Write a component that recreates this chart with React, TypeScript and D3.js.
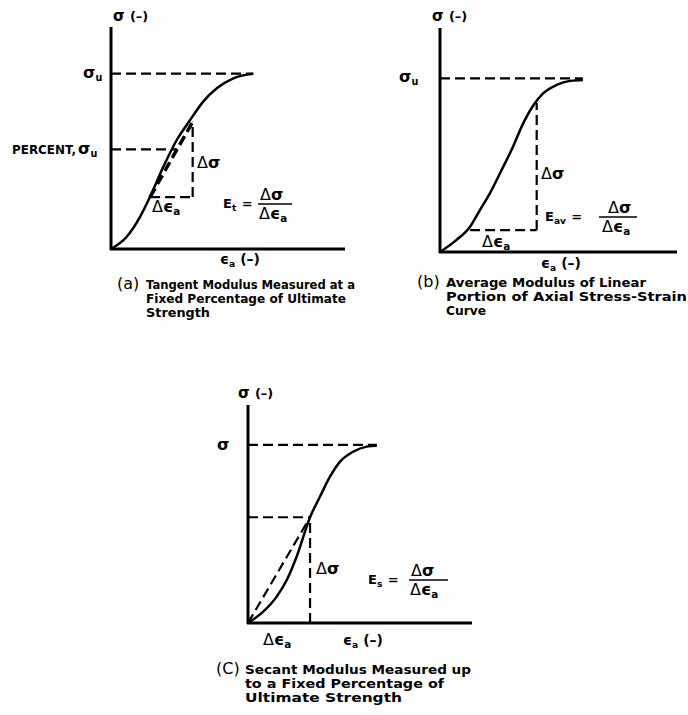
import React from 'react';
import * as d3 from 'd3';

// (a) tangent modulus curve, normalised strain / stress
const strainA = [0, 0.067, 0.124, 0.167, 0.224, 0.281, 0.338, 0.394, 0.452, 0.523, 0.608];
const stressA = [0, 0.055, 0.145, 0.236, 0.371, 0.491, 0.581, 0.664, 0.724, 0.769, 0.789];
const peakA = 0.790;
const percentA = 0.449;
const tangentStrainA = [0.167, 0.349];
const tangentStressA = [0.234, 0.573];

// (b) average modulus curve
const strainB = [0, 0.070, 0.127, 0.169, 0.211, 0.260, 0.308, 0.350, 0.392, 0.435, 0.492, 0.549, 0.603];
const stressB = [0, 0.054, 0.113, 0.188, 0.263, 0.366, 0.470, 0.572, 0.652, 0.708, 0.746, 0.764, 0.768];
const peakB = 0.775;
const avgStrainB = [0.127, 0.408];
const avgStressB = [0.098, 0.665];

// (c) secant modulus curve
const strainC = [0, 0.068, 0.128, 0.173, 0.217, 0.277, 0.321, 0.366, 0.411, 0.470, 0.530, 0.575];
const stressC = [0, 0.052, 0.121, 0.197, 0.304, 0.485, 0.579, 0.671, 0.740, 0.786, 0.809, 0.813];
const peakC = 0.817;
const secantStrainC = [0, 0.277];
const secantStressC = [0, 0.485];

const captionA = ['Tangent  Modulus  Measured at a', 'Fixed Percentage of Ultimate', 'Strength'];
const captionB = ['Average  Modulus  of  Linear', 'Portion  of  Axial  Stress-Strain', 'Curve'];
const captionC = ['Secant  Modulus Measured up', 'to a Fixed Percentage  of', 'Ultimate  Strength'];

const FONT = '"DejaVu Sans", sans-serif';
const DASH = '10,5';

const makeScales = (left: number, right: number, top: number, bottom: number) => ({
  x: d3.scaleLinear().domain([0, 1]).range([left, right]),
  y: d3.scaleLinear().domain([0, 1]).range([bottom, top]),
});

const curvePath = (x: any, y: any, xs: number[], ys: number[]) =>
  d3.line<number>()
    .x((d, i) => x(xs[i]))
    .y((d, i) => y(ys[i]))
    .curve(d3.curveMonotoneX)(xs) as string;

const Axes = ({ x, y }: any) => (
  <g stroke="#000" strokeWidth={3} fill="none">
    <line x1={x(0)} y1={y(1)} x2={x(0)} y2={y(0) + 1} />
    <line x1={x(0) - 1} y1={y(0)} x2={x(1)} y2={y(0)} />
  </g>
);

const Dashed = ({ x1, y1, x2, y2, w = 2.2 }: any) => (
  <line x1={x1} y1={y1} x2={x2} y2={y2} stroke="#000" strokeWidth={w} strokeDasharray={DASH} />
);

const Sigma = ({ x, y, sub, size = 16 }: any) => (
  <text x={x} y={y} fontSize={size} fontFamily={FONT} fontWeight="bold">
    σ{sub ? <tspan fontSize={size * 0.6} dy={3}>{sub}</tspan> : null}
  </text>
);

const Delta = () => <tspan fontWeight="normal">Δ</tspan>;

const Eps = ({ x, y, delta = false, size = 14, label = '' }: any) => (
  <text x={x} y={y} fontSize={size} fontFamily={FONT} fontWeight="bold">
    {delta ? <Delta /> : null}ϵ<tspan fontSize={size * 0.65} dy={3}>a</tspan>
    {label ? <tspan dy={-3} dx={5} fontSize={size}>{label}</tspan> : null}
  </text>
);

const DeltaSigma = ({ x, y, size = 16 }: any) => (
  <text x={x} y={y} fontFamily={FONT} fontWeight="bold" fontSize={size}><Delta />σ</text>
);

const Fraction = ({ x, y, name, sub, barX1, barX2, numX, denX }: any) => (
  <g fontFamily={FONT} fontWeight="bold">
    <text x={x} y={y + 4} fontSize={13}>
      {name}<tspan fontSize={9} dy={3}>{sub}</tspan><tspan dy={-3} dx={1}> =</tspan>
    </text>
    <DeltaSigma x={numX} y={y - 4} />
    <line x1={barX1} x2={barX2} y1={y} y2={y} stroke="#000" strokeWidth={1.5} />
    <Eps x={denX} y={y + 15} delta size={16} />
  </g>
);

const Caption = ({ x, y, tag, lines, widths }: any) => (
  <g fontFamily={FONT} fontWeight="bold" fontSize={12.5}>
    <text x={x} y={y} fontSize={16} fontWeight="normal">{tag}</text>
    {lines.map((l: string, i: number) => (
      <text key={i} x={x + 29} y={y + i * 14} textLength={widths[i]} lengthAdjust="spacingAndGlyphs">{l}</text>
    ))}
  </g>
);

const AxisTitle = ({ x, y }: any) => (
  <text x={x} y={y} fontFamily={FONT} fontWeight="bold" fontSize={15}>σ <tspan fontSize={13}>(–)</tspan></text>
);

const PanelA = () => {
  const { x, y } = makeScales(111, 345, 27, 249);
  const t = (percentA - tangentStressA[0]) / (tangentStressA[1] - tangentStressA[0]);
  const percentEnd = tangentStrainA[0] + t * (tangentStrainA[1] - tangentStrainA[0]);
  return (
    <g>
      <Axes x={x} y={y} />
      <Dashed x1={x(0)} y1={y(peakA)} x2={x(strainA[strainA.length - 1])} y2={y(peakA)} />
      <Dashed x1={x(0)} y1={y(percentA)} x2={x(percentEnd)} y2={y(percentA)} />
      <Dashed x1={x(tangentStrainA[0])} y1={y(tangentStressA[0])} x2={x(tangentStrainA[1])} y2={y(tangentStressA[0])} />
      <Dashed x1={x(tangentStrainA[1])} y1={y(tangentStressA[0])} x2={x(tangentStrainA[1])} y2={y(tangentStressA[1])} />
      <Dashed x1={x(tangentStrainA[0])} y1={y(tangentStressA[0])} x2={x(tangentStrainA[1])} y2={y(tangentStressA[1])} w={3.5} />
      <path d={curvePath(x, y, strainA, stressA)} fill="none" stroke="#000" strokeWidth={2.5} />
      <AxisTitle x={113} y={21} />
      <Sigma x={83} y={78} sub="u" />
      <text x={12} y={154} fontFamily={FONT} fontWeight="bold" fontSize={11.5} textLength={64} lengthAdjust="spacingAndGlyphs">PERCENT,</text>
      <Sigma x={78} y={154} sub="u" />
      <DeltaSigma x={197} y={168} />
      <Eps x={152} y={212} delta size={16} />
      <Fraction x={223} y={204} name="E" sub="t" barX1={258} barX2={292} numX={260} denX={259} />
      <Eps x={220} y={264} size={14} label="(–)" />
      <Caption x={117} y={289} tag="(a)" lines={captionA} widths={[209, 200, 64]} />
    </g>
  );
};

const PanelB = () => {
  const { x, y } = makeScales(440, 677, 28, 252);
  return (
    <g>
      <Axes x={x} y={y} />
      <Dashed x1={x(0)} y1={y(peakB)} x2={x(strainB[strainB.length - 1])} y2={y(peakB)} />
      <Dashed x1={x(avgStrainB[0])} y1={y(avgStressB[0])} x2={x(avgStrainB[1])} y2={y(avgStressB[0])} />
      <Dashed x1={x(avgStrainB[1])} y1={y(avgStressB[0])} x2={x(avgStrainB[1])} y2={y(avgStressB[1])} />
      <path d={curvePath(x, y, strainB, stressB)} fill="none" stroke="#000" strokeWidth={2.5} />
      <AxisTitle x={432} y={21} />
      <Sigma x={399} y={82} sub="u" />
      <DeltaSigma x={541} y={179} />
      <Eps x={482} y={247} delta size={16} />
      <Fraction x={545} y={217} name="E" sub="av" barX1={599} barX2={637} numX={608} denX={602} />
      <Eps x={541} y={268} size={14} label="(–)" />
      <Caption x={417} y={287} tag="(b)" lines={captionB} widths={[200, 241, 40]} />
    </g>
  );
};

const PanelC = () => {
  const { x, y } = makeScales(248, 472, 405, 623);
  return (
    <g>
      <Axes x={x} y={y} />
      <Dashed x1={x(0)} y1={y(peakC)} x2={x(strainC[strainC.length - 1])} y2={y(peakC)} />
      <Dashed x1={x(0)} y1={y(secantStressC[1])} x2={x(secantStrainC[1])} y2={y(secantStressC[1])} />
      <Dashed x1={x(secantStrainC[1])} y1={y(0)} x2={x(secantStrainC[1])} y2={y(secantStressC[1])} />
      <Dashed x1={x(secantStrainC[0])} y1={y(secantStressC[0])} x2={x(secantStrainC[1])} y2={y(secantStressC[1])} />
      <path d={curvePath(x, y, strainC, stressC)} fill="none" stroke="#000" strokeWidth={2.5} />
      <AxisTitle x={238} y={398} />
      <Sigma x={217} y={450} />
      <DeltaSigma x={316} y={574} />
      <Fraction x={368} y={580} name="E" sub="s" barX1={409} barX2={448} numX={411} denX={410} />
      <Eps x={263} y={645} delta size={16} />
      <Eps x={343} y={645} size={14} label="(–)" />
      <Caption x={216} y={674} tag="(C)" lines={captionC} widths={[226, 199, 157]} />
    </g>
  );
};

export default function App() {
  return (
    <svg width={688} height={715} style={{ position: 'absolute', left: 0, top: 0, background: '#fff' }}>
      <PanelA />
      <PanelB />
      <PanelC />
    </svg>
  );
}
